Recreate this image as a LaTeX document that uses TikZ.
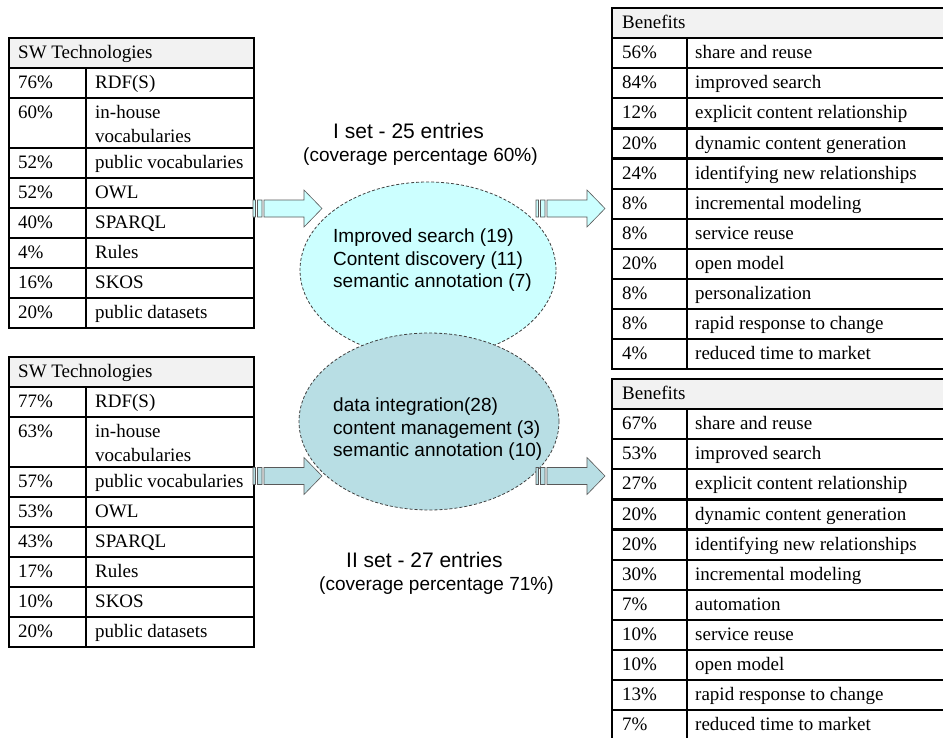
\documentclass[tikz,border=0pt]{standalone}
\usepackage{fontspec}
\setmainfont{Liberation Serif}
\newfontfamily\arialf{Liberation Sans}
\usetikzlibrary{shapes.geometric}
\definecolor{hdrgray}{HTML}{F2F2F2}
\definecolor{cyanfill}{HTML}{CCFFFF}
\definecolor{tealfill}{RGB}{184,222,228}
\definecolor{arrowline}{HTML}{595959}
\definecolor{dashline}{HTML}{404040}
\newcommand\blkarrow[3]{%
  \filldraw[fill=#3, draw=arrowline, line width=0.6pt]
    ({#1},{#2-8.5}) rectangle ({#1+2.5},{#2+8.5})
    ({#1+4.5},{#2-8.5}) rectangle ({#1+9},{#2+8.5})
    ({#1+11},{#2-8.5}) -- ({#1+51},{#2-8.5}) -- ({#1+51},{#2-18.5}) -- ({#1+69},{#2})
    -- ({#1+51},{#2+18.5}) -- ({#1+51},{#2+8.5}) -- ({#1+11},{#2+8.5}) -- cycle;}
\begin{document}
\begin{tikzpicture}[x=1pt,y=-1pt,
  tline/.style={line width=2.2pt, line cap=rect},
  ctext/.style={anchor=base west, inner sep=0pt, font=\fontsize{19}{23}\selectfont},
  etext/.style={anchor=base west, inner sep=0pt, font=\arialf\fontsize{19}{23}\selectfont},
  ttext/.style={anchor=base west, inner sep=0pt, font=\arialf\fontsize{21}{25}\selectfont},
  ell/.style={ellipse, draw=dashline, line width=0.8pt, dash pattern=on 3pt off 2pt, inner sep=0pt}]
\useasboundingbox (0,0) rectangle (943,737);
\clip (0,0) rectangle (943,737);
\fill[white] (0,0) rectangle (943,737);

% ---------- left table 1 ----------
\fill[hdrgray] (9,38) rectangle (254,68.1);
\foreach \yy in {68.1,98.2,147.7,177.8,207.9,238.0,268.1,298.2} \draw[tline] (9,\yy) -- (254,\yy);
\draw[tline] (86,68.1) -- (86,328.3);
\draw[tline] (9,38) rectangle (254,328.3);
\node[ctext] (l1h) at (18,58.6) {SW Technologies};
\foreach [count=\i] \ty/\pc/\tx in {68.1/76\%/RDF(S), 98.2/60\%/in-house, 147.7/52\%/public vocabularies, 177.8/52\%/OWL, 207.9/40\%/SPARQL, 238.0/4\%/Rules, 268.1/16\%/SKOS, 298.2/20\%/public datasets} {
  \node[ctext] (l1p\i) at (18,\ty+20.6) {\pc};
  \node[ctext] (l1n\i) at (95,\ty+20.6) {\tx};
}
\node[ctext] (l1n2b) at (95,142.8) {vocabularies};

% ---------- left table 2 ----------
\fill[hdrgray] (9,357) rectangle (254,387.1);
\foreach \yy in {387.1,417.2,466.7,496.8,526.9,557.0,587.1,617.2} \draw[tline] (9,\yy) -- (254,\yy);
\draw[tline] (86,387.1) -- (86,647.3);
\draw[tline] (9,357) rectangle (254,647.3);
\node[ctext] (l2h) at (18,377.6) {SW Technologies};
\foreach [count=\i] \ty/\pc/\tx in {387.1/77\%/RDF(S), 417.2/63\%/in-house, 466.7/57\%/public vocabularies, 496.8/53\%/OWL, 526.9/43\%/SPARQL, 557.0/17\%/Rules, 587.1/10\%/SKOS, 617.2/20\%/public datasets} {
  \node[ctext] (l2p\i) at (18,\ty+20.6) {\pc};
  \node[ctext] (l2n\i) at (95,\ty+20.6) {\tx};
}
\node[ctext] (l2n2b) at (95,461.8) {vocabularies};

% ---------- right table 1 ----------
\fill[hdrgray] (612,8) rectangle (950,38.1);
\foreach \i in {1,...,11} \draw[tline] (612,{8+30.1*\i}) -- (950,{8+30.1*\i});
\draw[tline] (687,38.1) -- (687,369.2);
\draw[tline] (612,8) rectangle (950,369.2);
\node[ctext] (r1h) at (622,28.6) {Benefits};
\foreach [count=\i] \pc/\tx in {56\%/share and reuse, 84\%/improved search, 12\%/explicit content relationship, 20\%/dynamic content generation, 24\%/identifying new relationships, 8\%/incremental modeling, 8\%/service reuse, 20\%/open model, 8\%/personalization, 8\%/rapid response to change, 4\%/reduced time to market} {
  \node[ctext] (r1p\i) at (622,{8+30.1*\i+20.6}) {\pc};
  \node[ctext] (r1n\i) at (695,{8+30.1*\i+20.6}) {\tx};
}

% ---------- right table 2 ----------
\fill[hdrgray] (612,379) rectangle (950,409.1);
\foreach \i in {1,...,11} \draw[tline] (612,{379+30.1*\i}) -- (950,{379+30.1*\i});
\draw[tline] (687,409.1) -- (687,740.2);
\draw[tline] (612,379) rectangle (950,740.2);
\node[ctext] (r2h) at (622,399.6) {Benefits};
\foreach [count=\i] \pc/\tx in {67\%/share and reuse, 53\%/improved search, 27\%/explicit content relationship, 20\%/dynamic content generation, 20\%/identifying new relationships, 30\%/incremental modeling, 7\%/automation, 10\%/service reuse, 10\%/open model, 13\%/rapid response to change, 7\%/reduced time to market} {
  \node[ctext] (r2p\i) at (622,{379+30.1*\i+20.6}) {\pc};
  \node[ctext] (r2n\i) at (695,{379+30.1*\i+20.6}) {\tx};
}

% ---------- ellipses ----------
\node[ell, fill=cyanfill, minimum width=256pt, minimum height=176pt] (e1) at (428,270) {};
\node[ell, fill=tealfill, minimum width=260pt, minimum height=177pt] (e2) at (429,421.5) {};
\node[etext] (e1a) at (333,242) {Improved search (19)};
\node[etext] (e1b) at (333,265) {Content discovery (11)};
\node[etext] (e1c) at (333,287) {semantic annotation (7)};
\node[etext] (e2a) at (333,411) {data integration(28)};
\node[etext] (e2b) at (333,434) {content management (3)};
\node[etext] (e2c) at (333,456) {semantic annotation (10)};

% ---------- titles ----------
\node[ttext] (t1) at (333,138) {I set - 25 entries};
\node[etext] (c1) at (303,161) {(coverage percentage 60\%)};
\node[ttext] (t2) at (346,567) {II set - 27 entries};
\node[etext] (c2) at (319,590) {(coverage percentage 71\%)};

% ---------- block arrows ----------
\blkarrow{253}{208.5}{cyanfill}
\blkarrow{536}{208.5}{cyanfill}
\blkarrow{253}{476}{tealfill}
\blkarrow{536}{476}{tealfill}
\end{tikzpicture}
\end{document}
